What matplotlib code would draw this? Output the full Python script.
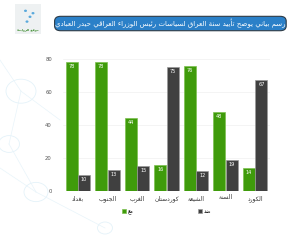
import numpy as np
import matplotlib
matplotlib.use("Agg")
import matplotlib.pyplot as plt
from matplotlib.patches import FancyBboxPatch, Rectangle, Circle

plt.rcParams['font.family'] = ['DejaVu Sans']

title = "رسم بياني يوضح تأييد سنة العراق لسياسات رئيس الوزراء العراقي حيدر العبادي"
categories = ["بغداد", "الجنوب", "الغرب", "كوردستان", "الشيعة", "السنة", "الكورد"]
with_vals = [78, 78, 44, 16, 76, 48, 14]
against_vals = [10, 13, 15, 75, 12, 19, 67]
series_names = ["مع", "ضد"]
logo_text = "موقع الروابط"

# --- tiny arabic shaper (matplotlib has no bidi/shaping) ---
# char -> (isolated presentation form, number of forms)
FORMS = {
    'ء': (0xFE80, 1), 'آ': (0xFE81, 2), 'أ': (0xFE83, 2), 'ؤ': (0xFE85, 2),
    'إ': (0xFE87, 2), 'ئ': (0xFE89, 4), 'ا': (0xFE8D, 2), 'ب': (0xFE8F, 4),
    'ة': (0xFE93, 2), 'ت': (0xFE95, 4), 'ث': (0xFE99, 4), 'ج': (0xFE9D, 4),
    'ح': (0xFEA1, 4), 'خ': (0xFEA5, 4), 'د': (0xFEA9, 2), 'ذ': (0xFEAB, 2),
    'ر': (0xFEAD, 2), 'ز': (0xFEAF, 2), 'س': (0xFEB1, 4), 'ش': (0xFEB5, 4),
    'ص': (0xFEB9, 4), 'ض': (0xFEBD, 4), 'ط': (0xFEC1, 4), 'ظ': (0xFEC5, 4),
    'ع': (0xFEC9, 4), 'غ': (0xFECD, 4), 'ف': (0xFED1, 4), 'ق': (0xFED5, 4),
    'ك': (0xFED9, 4), 'ل': (0xFEDD, 4), 'م': (0xFEE1, 4), 'ن': (0xFEE5, 4),
    'ه': (0xFEE9, 4), 'و': (0xFEED, 2), 'ى': (0xFEEF, 2), 'ي': (0xFEF1, 4),
}


def shape(s):
    out = []
    for i, c in enumerate(s):
        if c not in FORMS:
            out.append(c)
            continue
        base, n = FORMS[c]
        prev = s[i - 1] if i > 0 else ''
        nxt = s[i + 1] if i + 1 < len(s) else ''
        join_prev = prev in FORMS and FORMS[prev][1] == 4 and n > 1
        join_next = n == 4 and nxt in FORMS
        if join_prev and join_next:
            off = 3
        elif join_next:
            off = 2
        elif join_prev:
            off = 1
        else:
            off = 0
        out.append(chr(base + off))
    return ''.join(out)[::-1]


green = '#3f9b0b'
dark = '#404040'

fig = plt.figure(figsize=(3.0, 2.4), dpi=100)
fig.patch.set_facecolor('white')

# faint network background
for (cx, cy, r) in [(0.07, 0.62, 0.05), (0.03, 0.4, 0.035), (0.12, 0.2, 0.04), (0.35, 0.05, 0.025)]:
    fig.patches.append(Circle((cx, cy), r, transform=fig.transFigure, fill=False,
                              ec='#e4f2f9', lw=0.6))
for (x0, y0, x1, y1) in [(0.0, 0.75, 0.07, 0.62), (0.07, 0.62, 0.03, 0.4), (0.03, 0.4, 0.12, 0.2),
                         (0.12, 0.2, 0.35, 0.05), (0.07, 0.62, 0.2, 0.5), (0.0, 0.3, 0.12, 0.2)]:
    fig.lines.append(plt.Line2D([x0, x1], [y0, y1], transform=fig.transFigure,
                                color='#e8f4fa', lw=0.5))

# logo
fig.patches.append(Rectangle((0.05, 0.86), 0.088, 0.125, transform=fig.transFigure,
                             fc='#eef1f2', ec='none'))
for (px, py) in [(0.085, 0.955), (0.1, 0.93), (0.09, 0.91), (0.11, 0.945)]:
    fig.patches.append(Circle((px, py), 0.005, transform=fig.transFigure, fc='#5aa9dc', ec='none'))
fig.text(0.094, 0.877, shape(logo_text), fontsize=2.3, color='#3a8a2a', ha='center', va='center',
         fontweight='bold')

# title banner
fig.patches.append(FancyBboxPatch((0.182, 0.872), 0.772, 0.06, transform=fig.transFigure,
                                  boxstyle='round,pad=0.0,rounding_size=0.02',
                                  fc='#2b80c8', ec='#2d3a45', lw=0.8))
fig.text(0.568, 0.902, shape(title), fontsize=5.0, color='white', ha='center', va='center')

ax = fig.add_axes([0.21, 0.204, 0.69, 0.55])
ax.set_facecolor('none')
x = np.arange(len(categories))
w = 0.405
b1 = ax.bar(x - 0.21, with_vals, w, color=green, edgecolor='#7cc050', lw=0.5, label=shape(series_names[0]))
b2 = ax.bar(x + 0.21, against_vals, w, color=dark, edgecolor='#9a9a9a', lw=0.5, label=shape(series_names[1]))
for bars, vals in [(b1, with_vals), (b2, against_vals)]:
    for r, v in zip(bars, vals):
        ax.text(r.get_x() + r.get_width() / 2, v - 1.2, str(v), ha='center', va='top',
                fontsize=3.6, color='white')

ax.set_xlim(-0.5, 6.5)
ax.set_ylim(0, 80)
ax.set_yticks([0, 20, 40, 60, 80])
ax.set_xticks(x)
ax.set_xticklabels([shape(c) for c in categories], fontsize=4.3, color='#333333')
ax.tick_params(axis='y', length=0, pad=8, labelsize=3.8, labelcolor='#555555')
ax.tick_params(axis='x', length=0, pad=3)
ax.grid(axis='y', color='#f0f0f0', lw=0.5)
ax.set_axisbelow(True)
for s in ax.spines.values():
    s.set_visible(False)

ax.legend(loc='upper center', bbox_to_anchor=(0.5, -0.1), ncol=2, frameon=False,
          fontsize=4, handlelength=0.7, handleheight=0.7, handletextpad=0.4, columnspacing=11.5)

fig.savefig('out.png', dpi=100)
